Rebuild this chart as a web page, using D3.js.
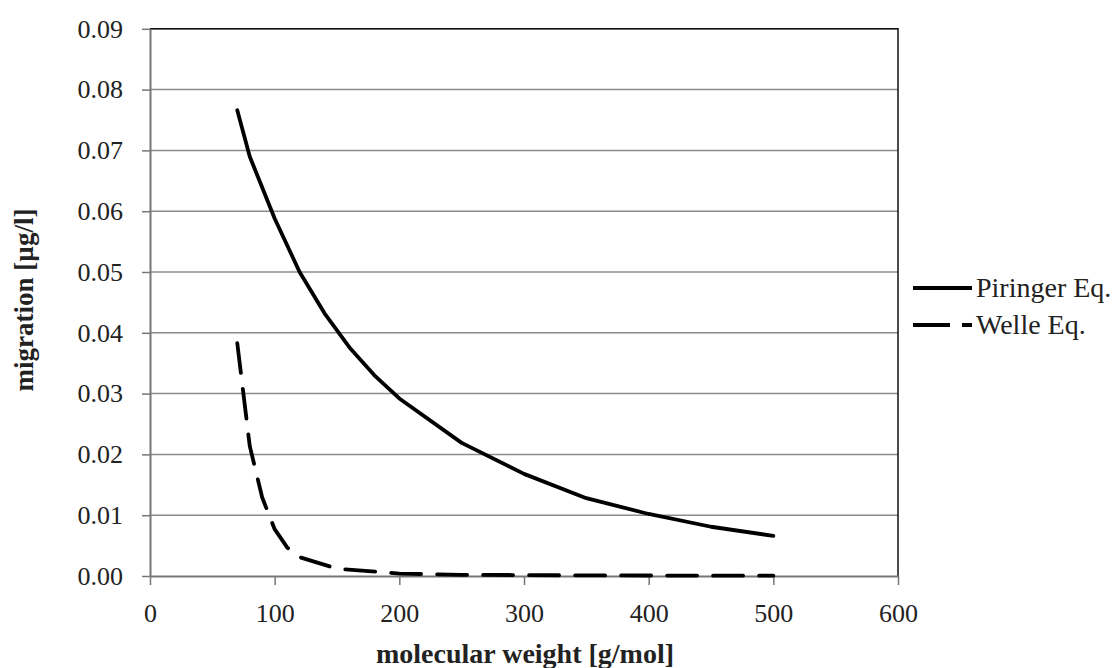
<!DOCTYPE html>
<html>
<head>
<meta charset="utf-8">
<script src="https://cdn.jsdelivr.net/npm/d3@7"></script>
<style>
  body { margin: 0; background: #fff; }
  svg { display: block; font-family: "Liberation Serif", serif; }
</style>
</head>
<body>
<script>
// molecular weight points [g/mol] and migration values [µg/l]
const piringerX = [70, 80, 100, 120, 140, 160, 180, 200, 250, 300, 350, 400, 450, 500];
const piringerY = [0.0766, 0.0690, 0.0588, 0.0500, 0.0432, 0.0376, 0.0330, 0.0292, 0.0219, 0.0168, 0.0128, 0.0102, 0.0081, 0.0066];
const welleX = [70, 80, 90, 100, 110, 120, 150, 200, 250, 300, 350, 400, 450, 500];
const welleY = [0.0383, 0.0214, 0.0129, 0.0077, 0.0047, 0.0031, 0.0012, 0.0004, 0.0002, 0.00015, 0.0001, 0.00008, 0.00006, 0.00005];
const seriesNames = ['Piringer Eq.', 'Welle Eq.'];
const xTicks = [0, 100, 200, 300, 400, 500, 600];
const yTicks = [0, 0.01, 0.02, 0.03, 0.04, 0.05, 0.06, 0.07, 0.08, 0.09];

const WIDTH = 1116;
const HEIGHT = 668;
const PLOT = {left: 150, right: 898, top: 28.8, bottom: 576};

const series = [
  {name: seriesNames[0], dash: null, points: piringerX.map((x, i) => ({x: x, y: piringerY[i]}))},
  {name: seriesNames[1], dash: '30,16', points: welleX.map((x, i) => ({x: x, y: welleY[i]}))}
];

const svg = d3.select('body')
  .append('svg')
  .attr('width', WIDTH)
  .attr('height', HEIGHT);

const xScale = d3.scaleLinear().domain([0, 600]).range([PLOT.left, PLOT.right]);
const yScale = d3.scaleLinear().domain([0, 0.09]).range([PLOT.bottom, PLOT.top]);

// gridlines
svg.append('g')
  .selectAll('line')
  .data(yTicks.slice(1))
  .enter().append('line')
  .attr('x1', PLOT.left)
  .attr('x2', PLOT.right)
  .attr('y1', d => yScale(d))
  .attr('y2', d => yScale(d))
  .style('stroke', '#8c8c8c')
  .style('stroke-width', 1.5);

// plot border (top and right)
svg.append('path')
  .attr('d', 'M' + PLOT.left + ',' + PLOT.top + 'H' + PLOT.right + 'V' + PLOT.bottom)
  .style('fill', 'none')
  .style('stroke', '#111')
  .style('stroke-width', 1.5);

// axes
const xAxis = d3.axisBottom(xScale)
  .tickValues(xTicks)
  .tickFormat(d3.format('d'))
  .tickSize(9)
  .tickPadding(19)
  .tickSizeOuter(0);

const yAxis = d3.axisLeft(yScale)
  .tickValues(yTicks)
  .tickFormat(d3.format('.2f'))
  .tickSize(8)
  .tickPadding(19)
  .tickSizeOuter(0);

const gx = svg.append('g')
  .attr('transform', 'translate(0,' + PLOT.bottom + ')')
  .call(xAxis);

const gy = svg.append('g')
  .attr('transform', 'translate(' + PLOT.left + ',0)')
  .call(yAxis);

[gx, gy].forEach(g => {
  g.select('.domain').style('stroke', '#777').style('stroke-width', 2);
  g.selectAll('.tick line').style('stroke', '#777').style('stroke-width', 1.5);
  g.selectAll('.tick text')
    .style('font-family', '"Liberation Serif", serif')
    .style('font-size', '26px')
    .style('fill', '#222');
});

// lines
const line = d3.line()
  .x(d => xScale(d.x))
  .y(d => yScale(d.y));

svg.selectAll('.series')
  .data(series)
  .enter().append('path')
  .attr('class', 'series')
  .attr('d', d => line(d.points))
  .style('fill', 'none')
  .style('stroke', '#000')
  .style('stroke-width', 3.8)
  .style('stroke-linecap', 'round')
  .style('stroke-linejoin', 'round')
  .style('stroke-dasharray', d => d.dash);

// axis titles
svg.append('text')
  .attr('x', 525)
  .attr('y', 663)
  .attr('text-anchor', 'middle')
  .style('font-size', '28px')
  .style('font-weight', 'bold')
  .style('fill', '#222')
  .text('molecular weight [g/mol]');

svg.append('text')
  .attr('transform', 'translate(33,300) rotate(-90)')
  .attr('text-anchor', 'middle')
  .style('font-size', '27px')
  .style('font-weight', 'bold')
  .style('fill', '#222')
  .text('migration [µg/l]');

// legend
const legend = svg.append('g')
  .selectAll('g')
  .data(series)
  .enter().append('g')
  .attr('transform', (d, i) => 'translate(913,' + (288 + i * 37) + ')');

legend.append('line')
  .attr('x1', 0)
  .attr('x2', 59)
  .style('stroke', '#000')
  .style('stroke-width', 3.8)
  .style('stroke-dasharray', d => d.dash ? '37,12' : null);

legend.append('text')
  .attr('x', 63)
  .attr('y', 9)
  .style('font-size', '28px')
  .style('fill', '#222')
  .text(d => d.name);
</script>
</body>
</html>
